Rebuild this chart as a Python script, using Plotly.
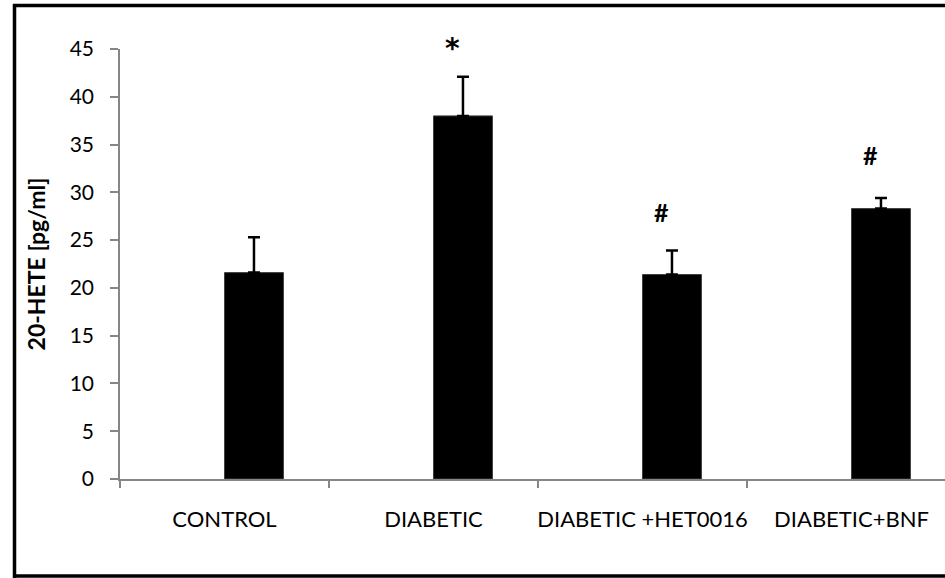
import plotly.graph_objects as go

categories = ["CONTROL", "DIABETIC", "DIABETIC +HET0016", "DIABETIC+BNF"]
values = [21.6, 38.0, 21.4, 28.3]
errors = [3.7, 4.1, 2.5, 1.1]
sig_labels = ["", "*", "#", "#"]
sig_y = [None, 45.4, 27.9, 33.9]
y_ticks = [0, 5, 10, 15, 20, 25, 30, 35, 40, 45]
Y_MAX = 45

W, H = 945, 578
L, R, T, B = 120, 0, 49, 99

fig = go.Figure()
fig.add_trace(go.Bar(
    x=categories, y=values,
    width=0.282, offset=0.0,
    marker=dict(color="black", line=dict(color="#404040", width=1)),
    error_y=dict(type="data", array=errors, symmetric=False, arrayminus=[0]*4,
                 color="black", thickness=2.5, width=6, visible=True),
    showlegend=False, hoverinfo="skip",
))

annotations = []
for i, (lab, yy) in enumerate(zip(sig_labels, sig_y)):
    if lab:
        star = lab == "*"
        annotations.append(dict(
            x=i + 0.09, y=yy / Y_MAX, xref="x", yref="paper", text=f"<b>{lab}</b>",
            showarrow=False,
            font=dict(family="DejaVu Sans" if star else "Lato", size=28 if star else 25, color="black"),
            xanchor="center", yanchor="middle",
            yshift=-3 if star else 0))

pw = W - L - R
ph = H - T - B
def px2x(px):
    return (px - L) / pw
def py2y(py):
    return (H - B - py) / ph

border = dict(color="black", width=3.5)
shapes = [
    dict(type="line", xref="paper", yref="paper", x0=px2x(14.5), x1=px2x(14.5), y0=py2y(4), y1=py2y(578), line=border),
    dict(type="line", xref="paper", yref="paper", x0=px2x(13), x1=px2x(960), y0=py2y(5.5), y1=py2y(5.5), line=border),
    dict(type="line", xref="paper", yref="paper", x0=px2x(13), x1=px2x(960), y0=py2y(576), y1=py2y(576), line=border),
]

fig.update_layout(
    width=W, height=H,
    margin=dict(l=L, r=R, t=T, b=B, pad=0, autoexpand=False),
    paper_bgcolor="white", plot_bgcolor="white",
    font=dict(family="Lato", size=20, color="black"),
    annotations=annotations,
    shapes=shapes,
    xaxis=dict(
        type="category", range=[-0.5, 3.5 - 11 / 209], automargin=False,
        tickson="boundaries", ticks="outside", ticklen=7, tickcolor="#868686", tickwidth=1.5,
        showline=True, linecolor="#868686", linewidth=1.5,
        showgrid=False, zeroline=False, tickangle=0,
        tickfont=dict(family="Lato", size=22, color="black"),
        ticklabelstandoff=20,
    ),
    yaxis=dict(
        range=[0, Y_MAX], tickvals=y_ticks, ticks="outside", ticklen=8, automargin=False,
        tickcolor="#868686", tickwidth=1.5,
        showline=True, linecolor="#868686", linewidth=1.5,
        showgrid=False, zeroline=False,
        tickfont=dict(family="Lato", size=21, color="black"),
        ticklabelstandoff=12,
        title=dict(text="<b>20-HETE [pg/ml]</b>", font=dict(family="Lato", size=23, color="black"), standoff=18),
    ),
)

fig.write_html("out.html")
